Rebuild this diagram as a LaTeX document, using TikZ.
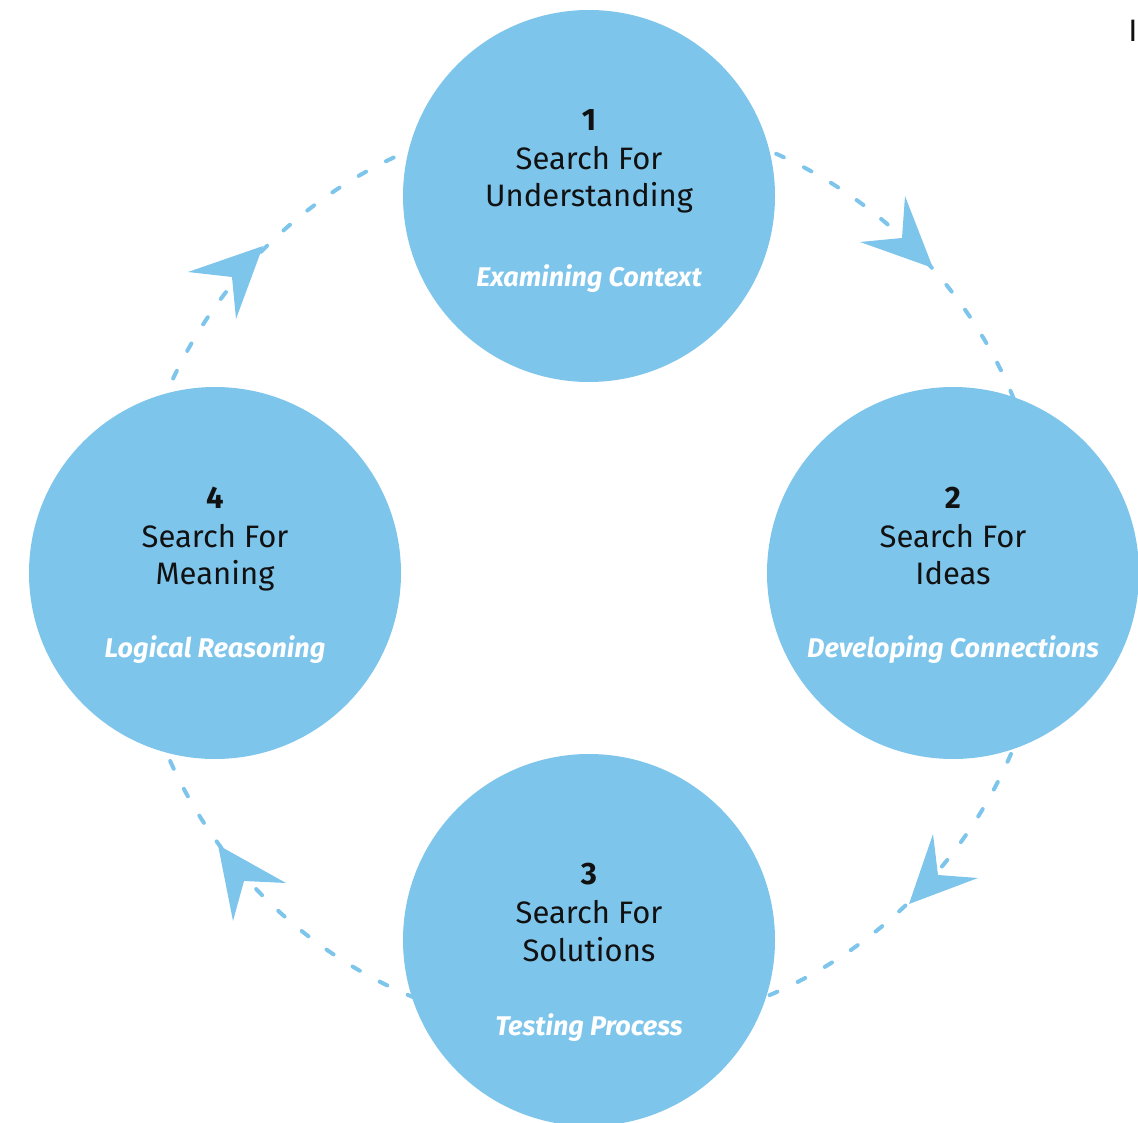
\documentclass[tikz,border=0pt]{standalone}
\usepackage{fontspec}
\setmainfont{Fira Sans}
\definecolor{cblue}{RGB}{126,197,236}
\definecolor{ink}{RGB}{17,17,17}
\begin{document}
\begin{tikzpicture}[x=1pt,y=-1pt,
  bigc/.style={circle,fill=cblue,draw=none,minimum size=372pt,inner sep=0pt},
  numtxt/.style={text=ink,font=\fontsize{31}{36}\selectfont\bfseries,inner sep=0pt,anchor=base},
  maintxt/.style={text=ink,font=\fontsize{31}{36}\selectfont,inner sep=0pt,anchor=base},
  subtxt/.style={text=white,font=\fontsize{27}{32}\selectfont\bfseries\itshape,inner sep=0pt,anchor=base},
  ring/.style={cblue,line width=4pt,line cap=round,dash pattern=on 8.5pt off 22.5pt},
  headfill/.style={fill=cblue,draw=none}]
\useasboundingbox (0,0) rectangle (1138,1123);
\coordinate (O) at (589,573);
\draw[ring] (O) circle[radius=459];
% circles
\node[bigc] (c1) at (589,196) {};
\node[bigc] (c2) at (953,573) {};
\node[bigc] (c3) at (589,940) {};
\node[bigc] (c4) at (215,573) {};
% arrowheads
\fill[headfill] (933,268) -- (905,196) -- (902,238) -- (860,242) -- cycle;
\fill[headfill] (909,904) -- (933,834) -- (938,875) -- (978,878) -- cycle;
\fill[headfill] (218,845) -- (286,883) -- (244,881) -- (233,921) -- cycle;
\fill[headfill] (263,246) -- (188,272) -- (232,277) -- (236,319) -- cycle;
% texts circle 1
\node[numtxt] (n1) at (589,131) {1};
\node[maintxt] (a1) at (589,170) {Search For};
\node[maintxt] (b1) at (589,207) {Understanding};
\node[subtxt] (s1) at (589,287) {Examining Context};
% circle 2
\node[numtxt] (n2) at (953,508) {2};
\node[maintxt] (a2) at (953,547) {Search For};
\node[maintxt] (b2) at (953,584) {Ideas};
\node[subtxt] (s2) at (953,657) {Developing Connections};
% circle 3
\node[numtxt] (n3) at (589,884) {3};
\node[maintxt] (a3) at (589,923) {Search For};
\node[maintxt] (b3) at (589,961) {Solutions};
\node[subtxt] (s3) at (589,1035) {Testing Process};
% circle 4
\node[numtxt] (n4) at (215,508) {4};
\node[maintxt] (a4) at (215,547) {Search For};
\node[maintxt] (b4) at (215,584) {Meaning};
\node[subtxt] (s4) at (215,657) {Logical Reasoning};
% stray mark
\node[maintxt] (mark) at (1133,42) {I};
\end{tikzpicture}
\end{document}
